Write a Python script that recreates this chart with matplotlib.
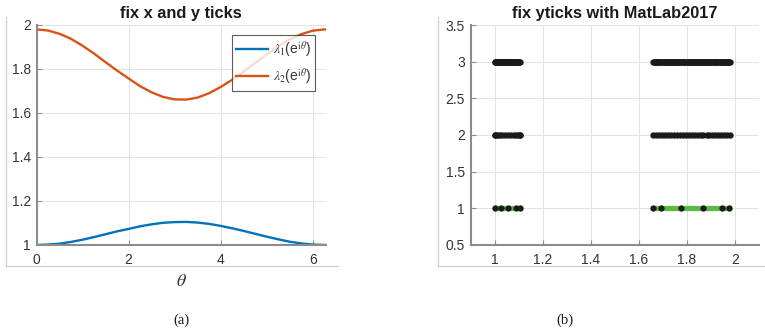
import matplotlib
matplotlib.use("Agg")
import matplotlib.pyplot as plt

plt.rcParams['font.family'] = ['Liberation Sans', 'DejaVu Sans']
plt.rcParams['mathtext.fontset'] = 'stix'

# ---- data: panel (a) ----
theta = [0.0, 0.25, 0.5, 0.75, 1.0, 1.25, 1.5, 1.75, 2.0, 2.25, 2.5, 2.75, 3.0,
         3.25, 3.5, 3.75, 4.0, 4.25, 4.5, 4.75, 5.0, 5.25, 5.5, 5.75, 6.0, 6.25, 6.2832]
lam1 = [1.000, 1.002, 1.006, 1.014, 1.024, 1.036, 1.049, 1.062, 1.073, 1.085, 1.094,
        1.101, 1.104, 1.105, 1.102, 1.096, 1.087, 1.076, 1.064, 1.051, 1.038, 1.026,
        1.015, 1.007, 1.002, 1.000, 1.000]
lam2 = [1.980, 1.975, 1.960, 1.937, 1.906, 1.870, 1.831, 1.793, 1.757, 1.722, 1.694,
        1.673, 1.662, 1.661, 1.670, 1.690, 1.718, 1.751, 1.788, 1.827, 1.866, 1.903,
        1.934, 1.958, 1.974, 1.980, 1.980]
legend_labels = [r'$\lambda_1$(e$^{\mathrm{i}\theta}$)', r'$\lambda_2$(e$^{\mathrm{i}\theta}$)']
a_xticks = [0, 2, 4, 6]
a_yticks = [1, 1.2, 1.4, 1.6, 1.8, 2]
a_yticklabels = ['1', '1.2', '1.4', '1.6', '1.8', '2']

# ---- data: panel (b) ----
row1_lam1 = [1.000, 1.028, 1.058, 1.089, 1.105]
row1_lam2 = [1.659, 1.691, 1.774, 1.868, 1.945, 1.975]
row2_lam1 = [1.000, 1.002, 1.006, 1.013, 1.022, 1.033, 1.045, 1.058, 1.070, 1.081,
             1.091, 1.099, 1.104, 1.105]
row2_lam2 = [1.660, 1.672, 1.685, 1.697, 1.709, 1.722, 1.734, 1.746, 1.758, 1.771,
             1.783, 1.795, 1.808, 1.820, 1.832, 1.845, 1.857, 1.869, 1.882, 1.894,
             1.906, 1.918, 1.931, 1.943, 1.955, 1.968, 1.980]
row3_lam1 = [1.000, 1.003, 1.005, 1.008, 1.010, 1.013, 1.015, 1.018, 1.020, 1.023,
             1.025, 1.028, 1.030, 1.033, 1.035, 1.038, 1.040, 1.043, 1.045, 1.048,
             1.050, 1.053, 1.055, 1.058, 1.060, 1.063, 1.065, 1.068, 1.070, 1.073,
             1.075, 1.078, 1.080, 1.083, 1.085, 1.088, 1.090, 1.093, 1.095, 1.098,
             1.100, 1.103, 1.105]
row3_lam2 = [1.660, 1.664, 1.667, 1.670, 1.673, 1.677, 1.680, 1.683, 1.686, 1.690,
             1.693, 1.696, 1.699, 1.703, 1.706, 1.709, 1.712, 1.716, 1.719, 1.722,
             1.725, 1.729, 1.732, 1.735, 1.738, 1.742, 1.745, 1.748, 1.751, 1.755,
             1.758, 1.761, 1.764, 1.768, 1.771, 1.774, 1.777, 1.781, 1.784, 1.787,
             1.790, 1.794, 1.797, 1.800, 1.803, 1.807, 1.810, 1.813, 1.816, 1.820,
             1.823, 1.826, 1.829, 1.833, 1.836, 1.839, 1.842, 1.846, 1.849, 1.852,
             1.855, 1.859, 1.862, 1.865, 1.868, 1.872, 1.875, 1.878, 1.881, 1.885,
             1.888, 1.891, 1.894, 1.898, 1.901, 1.904, 1.907, 1.911, 1.914, 1.917,
             1.920, 1.924, 1.927, 1.930, 1.933, 1.937, 1.940, 1.943, 1.946, 1.950,
             1.953, 1.956, 1.959, 1.963, 1.966, 1.969, 1.972, 1.976, 1.980]
rows = [(1, row1_lam1, row1_lam2), (2, row2_lam1, row2_lam2), (3, row3_lam1, row3_lam2)]
b_xticks = [1, 1.2, 1.4, 1.6, 1.8, 2]
b_xticklabels = ['1', '1.2', '1.4', '1.6', '1.8', '2']
b_yticks = [0.5, 1, 1.5, 2, 2.5, 3, 3.5]
b_yticklabels = ['0.5', '1', '1.5', '2', '2.5', '3', '3.5']

W, H = 765, 335
fig = plt.figure(figsize=(W / 100, H / 100), dpi=100)

def px(x0, y0, x1, y1):
    return [x0 / W, (H - y1) / H, (x1 - x0) / W, (y1 - y0) / H]

AX_COL = '#8c8c8c'
TXT_COL = '#333333'
GRID_COL = '#e3e3e3'
FS = 10

def outer_box(rect):
    bg = fig.add_axes(rect, zorder=0)
    bg.set_xticks([]); bg.set_yticks([])
    for s in ['top', 'right']:
        bg.spines[s].set_visible(False)
    for s in ['left', 'bottom']:
        bg.spines[s].set_color('#cfcfcf')
        bg.spines[s].set_linewidth(0.9)
    bg.patch.set_visible(False)

def style(ax):
    for s in ['top', 'right']:
        ax.spines[s].set_visible(False)
    for s in ['left', 'bottom']:
        ax.spines[s].set_color(AX_COL)
        ax.spines[s].set_linewidth(1.5)
    ax.tick_params(direction='in', length=3.5, width=0.8, color=AX_COL,
                   labelcolor=TXT_COL, labelsize=FS)
    ax.tick_params(axis='x', pad=6)
    ax.tick_params(axis='y', pad=4)
    ax.grid(True, color=GRID_COL, linewidth=0.7)
    ax.set_axisbelow(True)
    ax.patch.set_visible(False)

# ---- panel (a) ----
outer_box(px(6, 17, 338, 266))
axa = fig.add_axes(px(36.5, 25, 325.7, 245), zorder=1)
style(axa)
axa.plot(theta, lam1, color='#0072BD', linewidth=1.7, label=legend_labels[0])
axa.plot(theta, lam2, color='#D95319', linewidth=1.7, label=legend_labels[1])
axa.set_xlim(0, 6.2832)
axa.set_ylim(1, 2)
axa.set_xticks(a_xticks)
axa.set_xticklabels([str(t) for t in a_xticks])
axa.set_yticks(a_yticks)
axa.set_yticklabels(a_yticklabels)
axa.set_title('fix x and y ticks', fontsize=11.8, fontweight='bold', color='#1a1a1a', pad=5)
axa.set_xlabel(r'$\theta$', fontsize=13, color='#333333', labelpad=4)
leg = axa.legend(loc='upper right', bbox_to_anchor=(0.963, 0.9545), borderaxespad=0,
                 fontsize=10, frameon=True, fancybox=False, handlelength=2.3,
                 handletextpad=0.3, labelspacing=0.45, borderpad=0.3)
leg.get_frame().set_edgecolor('#333333')
leg.get_frame().set_linewidth(0.8)
for t in leg.get_texts():
    t.set_color(TXT_COL)

# ---- panel (b) ----
outer_box(px(437.5, 17, 765, 266))
axb = fig.add_axes(px(470.5, 25, 759, 245), zorder=1)
style(axb)
for yv, xs1, xs2 in rows:
    for xs in (xs1, xs2):
        axb.plot(xs, [yv] * len(xs), color='#5bb944', linewidth=3.8,
                 marker='o', markersize=4.0, markerfacecolor='#1a1a1a',
                 markeredgecolor='#1a1a1a', markeredgewidth=0.4)
axb.set_xlim(0.9, 2.1)
axb.set_ylim(0.5, 3.5)
axb.set_xticks(b_xticks)
axb.set_xticklabels(b_xticklabels)
axb.set_yticks(b_yticks)
axb.set_yticklabels(b_yticklabels)
axb.set_title('fix yticks with MatLab2017', fontsize=11.8, fontweight='bold', color='#1a1a1a', pad=5)

# ---- captions ----
fig.text(181 / W, 1 - 320 / H, '(a)', ha='center', va='center',
         fontsize=10.5, family='Liberation Serif', color='#1a1a1a')
fig.text(565 / W, 1 - 320 / H, '(b)', ha='center', va='center',
         fontsize=10.5, family='Liberation Serif', color='#1a1a1a')

fig.savefig('out.png', dpi=100)
